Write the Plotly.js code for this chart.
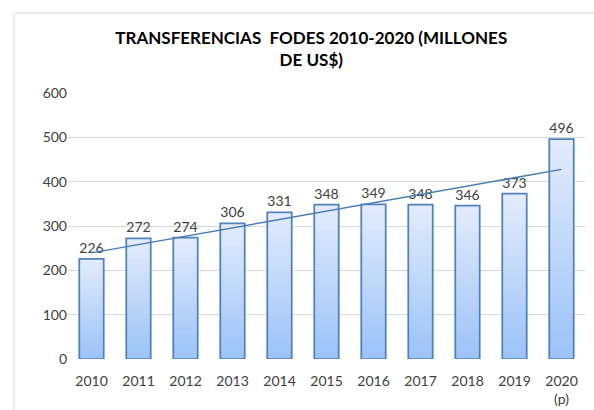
<!DOCTYPE html>
<html>
<head>
<meta charset="utf-8">
<script src="https://cdn.plot.ly/plotly-3.0.1.min.js"></script>
<style>
html,body{margin:0;padding:0;background:#fff;}
#chart{width:594px;height:410px;}
</style>
</head>
<body>
<div id="chart"></div>
<script>
// Data
var years = ['2010','2011','2012','2013','2014','2015','2016','2017','2018','2019','2020<br>(p)'];
var values = [226, 272, 274, 306, 331, 348, 349, 348, 346, 373, 496];
var yTicks = [0, 100, 200, 300, 400, 500, 600];

(function () {
  var FONT = 'Lato, "Liberation Sans", Arial, sans-serif';

  // Linear trendline (least squares) computed from the values
  var n = values.length, sx = 0, sy = 0, sxy = 0, sxx = 0;
  for (var i = 0; i < n; i++) { sx += i; sy += values[i]; sxy += i * values[i]; sxx += i * i; }
  var slope = (n * sxy - sx * sy) / (n * sxx - sx * sx);
  var intercept = (sy - slope * sx) / n;
  var trendX = [years[0], years[n - 1]];
  var trendY = [intercept, intercept + slope * (n - 1)];

  // Vertical gradient fill for the bars: overlay layers, light at top, darker at bottom
  var cTop = [226, 235, 252], cBot = [157, 195, 248];
  var steps = 24;
  var traces = [];
  for (var k = 0; k < steps; k++) {
    var t = k / (steps - 1);
    var c = 'rgb(' + Math.round(cTop[0] + (cBot[0] - cTop[0]) * t) + ',' +
            Math.round(cTop[1] + (cBot[1] - cTop[1]) * t) + ',' +
            Math.round(cTop[2] + (cBot[2] - cTop[2]) * t) + ')';
    var f = 1 - k / steps;
    traces.push({
      type: 'bar', x: years, y: values.map(function (v) { return v * f; }),
      marker: { color: c, line: { width: 0 } },
      hoverinfo: 'skip', showlegend: false
    });
  }
  // Outline + data labels
  traces.push({
    type: 'bar', x: years, y: values,
    marker: { color: 'rgba(0,0,0,0)', line: { color: '#4f81bd', width: 1.75 } },
    text: values.map(String), textposition: 'outside', cliponaxis: false,
    textfont: { family: FONT, size: 14, color: '#404040' },
    showlegend: false
  });
  // Trendline
  traces.push({
    type: 'scatter', mode: 'lines', x: trendX, y: trendY,
    line: { color: '#4a7ebb', width: 1.5 }, showlegend: false, hoverinfo: 'skip'
  });

  var layout = {
    width: 594, height: 410,
    margin: { l: 68, r: 9, t: 93, b: 51 },
    paper_bgcolor: '#ffffff', plot_bgcolor: '#ffffff',
    barmode: 'overlay', bargap: 0.48,
    font: { family: FONT, size: 14, color: '#404040' },
    title: {
      text: '<b>TRANSFERENCIAS  FODES 2010-2020 (MILLONES<br>DE US$)</b>',
      font: { family: FONT, size: 17, color: '#000000' },
      xref: 'container', x: 0.524, xanchor: 'center',
      yref: 'container', y: 0.892, yanchor: 'top'
    },
    xaxis: {
      type: 'category', showgrid: false, zeroline: false, showline: false,
      ticks: '', ticklabelstandoff: 12,
      tickfont: { family: FONT, size: 14, color: '#404040' }
    },
    yaxis: {
      range: [0, 600], tickvals: yTicks, ticktext: yTicks.map(String),
      showgrid: true, gridcolor: '#d9d9d9', gridwidth: 1, zeroline: false, showline: false,
      ticks: '', tickfont: { family: FONT, size: 14, color: '#404040' }
    },
    shapes: [{
      type: 'rect', xref: 'paper', yref: 'paper',
      x0: (14 - 68) / 517, x1: 1.2, y0: -0.3, y1: (359 - 13) / 266,
      line: { color: '#d9d9d9', width: 1 }, fillcolor: 'rgba(0,0,0,0)', layer: 'below'
    }]
  };

  Plotly.newPlot('chart', traces, layout, { displayModeBar: false, staticPlot: true });
})();
</script>
</body>
</html>
